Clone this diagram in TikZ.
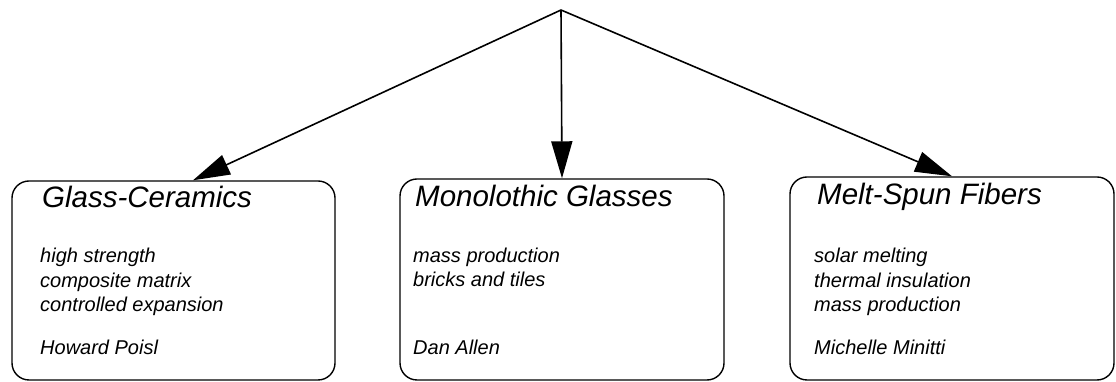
\documentclass[tikz,border=0pt]{standalone}
\usepackage{fontspec}
\setmainfont{Liberation Sans}
\usetikzlibrary{arrows.meta}
\begin{document}
\begin{tikzpicture}[x=1pt,y=1pt,
  box/.style={draw,rounded corners=17pt,line width=1.4pt,inner sep=0pt},
  arr/.style={-{Triangle[length=37pt,width=21pt]},line width=1.6pt},
  ttl/.style={anchor=base west,inner sep=0pt,font=\fontsize{29.5}{32}\selectfont\itshape},
  txt/.style={anchor=base west,inner sep=0pt,align=left,font=\fontsize{20}{24.5}\selectfont\itshape}]
\useasboundingbox (0,0) rectangle (1116,382);
\coordinate (top) at (561,372);
% the three boxes
\node[box,minimum width=323pt,minimum height=199pt] (glass) at (173.5,101.5) {};
\node[box,minimum width=324pt,minimum height=201pt] (mono) at (562,102.5) {};
\node[box,minimum width=324pt,minimum height=203pt] (fibers) at (952,103.5) {};
\draw[arr] (top) -- (glass.79);
\draw[arr] (top) -- (mono.north);
\draw[arr] (top) -- (fibers.north);
% texts (base = last line)
\node[ttl] (glassT) at (42,174) {Glass-Ceramics};
\node[txt] (glassL) at (40,70) {high strength\\composite matrix\\controlled expansion};
\node[txt] (glassN) at (40,27) {Howard Poisl};
\node[ttl] (monoT) at (415,175) {Monolothic Glasses};
\node[txt] (monoL) at (413,95) {mass production\\bricks and tiles};
\node[txt] (monoN) at (413,27) {Dan Allen};
\node[ttl] (fibersT) at (817,177) {Melt-Spun Fibers};
\node[txt] (fibersL) at (814,70) {solar melting\\thermal insulation\\mass production};
\node[txt] (fibersN) at (814,27) {Michelle Minitti};
\end{tikzpicture}
\end{document}
